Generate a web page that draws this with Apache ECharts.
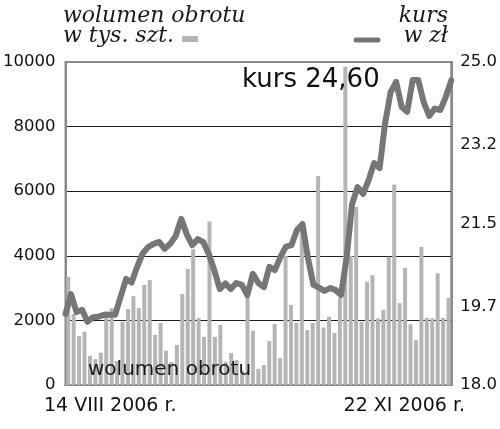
<!DOCTYPE html>
<html>
<head>
<meta charset="utf-8">
<script src="https://cdn.jsdelivr.net/npm/echarts@6/dist/echarts.min.js"></script>
<style>
  html, body { margin: 0; padding: 0; background: #fff; }
  #chart { width: 500px; height: 429px; }
</style>
</head>
<body>
<div id="chart"></div>
<script>
// trading sessions 14.08.2006 - 22.11.2006 (no 15 VIII, 1 XI)
const holidays = ['2006-08-15', '2006-11-01']
const days = []
for (let d = new Date(2006, 7, 14); d <= new Date(2006, 10, 22); d.setDate(d.getDate() + 1)) {
  const wd = d.getDay()
  const key = d.getFullYear() + '-' + String(d.getMonth() + 1).padStart(2, '0') + '-' + String(d.getDate()).padStart(2, '0')
  if (wd !== 0 && wd !== 6 && !holidays.includes(key)) days.push(key)
}

// wolumen obrotu, tys. szt.
const volume = [
  3350, 2200, 1520, 1650, 900, 800, 1000, 2270, 2380, 740,
  1960, 2350, 2750, 2380, 3100, 3250, 1550, 1920, 1060, 710,
  1240, 2820, 3590, 4200, 2070, 1490, 5060, 1490, 1860, 720,
  990, 770, 450, 2800, 1680, 500, 620, 1360, 1890, 830,
  4000, 2480, 1930, 4800, 1700, 1920, 6470, 1780, 2110, 1610,
  2700, 9850, 4000, 5510, 1960, 3200, 3400, 2060, 2330, 3970,
  6210, 2530, 3630, 1880, 1390, 4270, 2080, 2060, 3460, 2080,
  2700
]

// kurs, zł
const price = [
  19.54, 19.97, 19.58, 19.63, 19.37, 19.47, 19.48, 19.52, 19.52, 19.52,
  19.91, 20.30, 20.22, 20.56, 20.85, 20.99, 21.06, 21.10, 20.95, 21.06,
  21.23, 21.60, 21.27, 21.03, 21.16, 21.10, 20.84, 20.49, 20.08, 20.20,
  20.08, 20.21, 20.17, 19.95, 20.41, 20.21, 20.12, 20.56, 20.49, 20.77,
  21.00, 21.03, 21.36, 21.49, 20.75, 20.17, 20.11, 20.04, 20.10, 20.06,
  19.95, 20.75, 21.92, 22.29, 22.14, 22.44, 22.81, 22.70, 23.68, 24.35,
  24.57, 24.03, 23.92, 24.61, 24.61, 24.13, 23.83, 23.99, 23.96, 24.24,
  24.60
]

const priceTicks = [18.0, 19.7, 21.5, 23.2, 25.0]
const dateLabels = ['14 VIII 2006 r.', '22 XI 2006 r.']

const sans = 'DejaVu Sans'
const serif = 'DejaVu Serif'
const barColor = '#b5b5b5'
const lineColor = '#767676'
const frameColor = '#8a8a8a'

const chart = echarts.init(document.getElementById('chart'))

const option = {
  animation: false,
  grid: {
    left: 64, right: 47, top: 62, bottom: 44,
    show: true, borderColor: frameColor, borderWidth: 2
  },
  xAxis: [
    {
      type: 'category',
      data: days,
      boundaryGap: true,
      axisLine: { show: true, lineStyle: { color: frameColor, width: 2 } },
      axisTick: { show: false },
      axisLabel: { show: false }
    },
    {
      type: 'category',
      data: days,
      boundaryGap: false,
      show: false
    }
  ],
  yAxis: [
    {
      type: 'value',
      min: 0, max: 10000, interval: 2000,
      axisLine: { show: true, lineStyle: { color: frameColor, width: 2 } },
      axisTick: { show: false },
      axisLabel: {
        color: '#111', fontFamily: sans, fontSize: 16.5, margin: 10,
        formatter: (v) => String(v)
      },
      splitLine: {
        show: true,
        lineStyle: { color: [frameColor, '#1e1e1e', '#1e1e1e', '#1e1e1e', '#1e1e1e', frameColor], width: 1 }
      }
    },
    {
      type: 'value',
      min: 18, max: 25,
      position: 'right',
      axisLine: { show: true, lineStyle: { color: frameColor, width: 2 } },
      axisTick: { show: false },
      axisLabel: {
        customValues: priceTicks,
        color: '#111', fontFamily: sans, fontSize: 16.5, margin: 9,
        formatter: (v) => v.toFixed(1)
      },
      splitLine: { show: false }
    }
  ],
  series: [
    {
      name: 'wolumen obrotu',
      type: 'bar',
      xAxisIndex: 0,
      yAxisIndex: 0,
      data: volume,
      barWidth: 4,
      itemStyle: { color: barColor },
      z: 2
    },
    {
      name: 'kurs',
      type: 'line',
      xAxisIndex: 1,
      yAxisIndex: 1,
      data: price,
      symbol: 'none',
      lineStyle: { color: lineColor, width: 6, join: 'round', cap: 'round' },
      z: 3
    }
  ],
  graphic: [
    { type: 'text', left: 63, top: 5, style: { text: 'wolumen obrotu', font: 'italic 22px "' + serif + '"', fill: '#1a1a1a' } },
    { type: 'text', left: 63, top: 25, style: { text: 'w tys. szt.', font: 'italic 22px "' + serif + '"', fill: '#1a1a1a' } },
    { type: 'rect', left: 182, top: 36, shape: { width: 16, height: 6 }, style: { fill: barColor } },
    { type: 'text', right: 52, top: 5, style: { text: 'kurs', font: 'italic 22px "' + serif + '"', fill: '#1a1a1a' } },
    { type: 'text', right: 52, top: 25, style: { text: 'w zł', font: 'italic 22px "' + serif + '"', fill: '#1a1a1a' } },
    { type: 'line', shape: { x1: 356, y1: 40, x2: 378, y2: 40 }, style: { stroke: lineColor, lineWidth: 5, lineCap: 'round' } },
    { type: 'text', left: 242, top: 67, z: 10, style: { text: 'kurs 24,60', font: '26px "' + sans + '"', fill: '#111' } },
    { type: 'text', left: 88, top: 360, z: 10, style: { text: 'wolumen obrotu', font: '20px "' + sans + '"', fill: '#1a1a1a' } },
    { type: 'text', left: 44, top: 397, style: { text: dateLabels[0], font: '19px "' + sans + '"', fill: '#111' } },
    { type: 'text', right: 35, top: 397, style: { text: dateLabels[1], font: '19px "' + sans + '"', fill: '#111' } }
  ]
}

chart.setOption(option)
</script>
</body>
</html>
